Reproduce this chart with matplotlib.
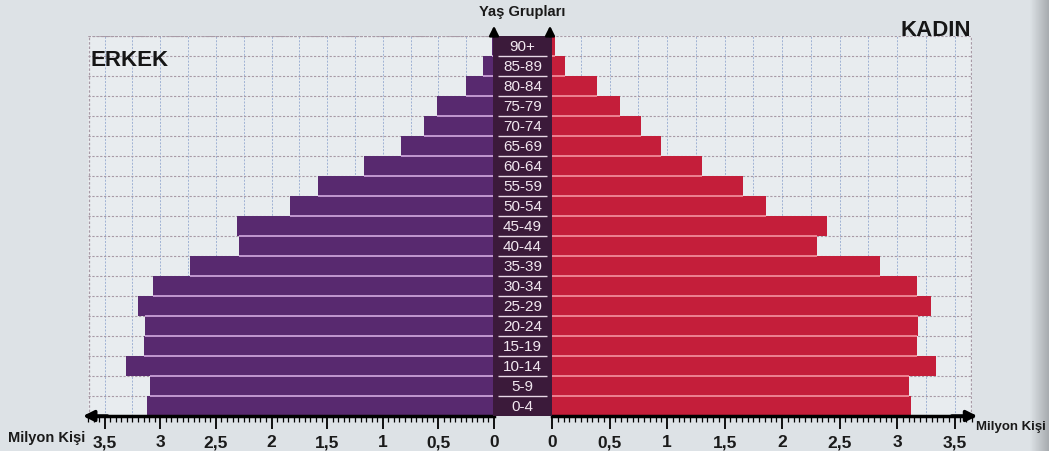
import matplotlib
matplotlib.use("Agg")
import matplotlib.pyplot as plt
import numpy as np
from matplotlib.ticker import MultipleLocator, FixedLocator

# ---------------- data ----------------
age_groups = ['0-4', '5-9', '10-14', '15-19', '20-24', '25-29', '30-34', '35-39',
              '40-44', '45-49', '50-54', '55-59', '60-64', '65-69', '70-74',
              '75-79', '80-84', '85-89', '90+']
male = [3.12, 3.09, 3.31, 3.15, 3.14, 3.20, 3.07, 2.73, 2.29, 2.31,
        1.83, 1.58, 1.17, 0.84, 0.63, 0.51, 0.25, 0.10, 0.02]
female = [3.12, 3.10, 3.34, 3.17, 3.18, 3.29, 3.17, 2.85, 2.30, 2.39,
          1.86, 1.66, 1.30, 0.95, 0.77, 0.59, 0.39, 0.11, 0.03]
tick_values = [0, 0.5, 1, 1.5, 2, 2.5, 3, 3.5]
tick_labels = ['0', '0,5', '1', '1,5', '2', '2,5', '3', '3,5']

FONT = ['Liberation Sans', 'DejaVu Sans']
plt.rcParams['font.family'] = FONT

W, H = 1049, 452
fig = plt.figure(figsize=(W / 100, H / 100), dpi=100)
fig.patch.set_facecolor('#dde2e6')

def fx(px):
    return px / W

def fy(py):
    return 1 - py / H

y_top_px, y_bot_px = 37, 417
bottom = fy(y_bot_px)
height = fy(y_top_px) - bottom

XMAX = 3.65
axL = fig.add_axes([fx(88), bottom, fx(494 - 88), height])
axR = fig.add_axes([fx(552), bottom, fx(972 - 552), height])
axC = fig.add_axes([fx(493), bottom, fx(552 - 493), height])

n = len(age_groups)
ypos = np.arange(n)

purple = '#58296f'
red = '#c41e3a'

for ax, vals, col, sep, xl in [(axL, male, purple, '#c9a0d8', (XMAX, 0)),
                                (axR, female, red, '#f08a98', (0, XMAX))]:
    ax.set_facecolor('#e8ecef')
    ax.set_xlim(*xl)
    ax.set_ylim(-0.5, n - 0.5)
    for gx in np.arange(0.25, XMAX, 0.25):
        ax.axvline(gx, color='#9fb2d4', lw=0.7, ls=(0, (2, 1.5)), zorder=0)
    for gy in np.arange(-0.5, n, 1.0):
        ax.axhline(gy, color='#a89aa6', lw=0.8, ls=(0, (2, 1.5)), zorder=0)
    ax.barh(ypos, vals, height=1.0, color=col, zorder=2, linewidth=0)
    for i in range(n - 1):
        ax.hlines(i + 0.5, 0, min(vals[i], vals[i + 1]), color=sep, lw=1.3, zorder=3)
    for s in ['top', 'left', 'right']:
        ax.spines[s].set_visible(False)
    ax.spines['bottom'].set_color('black')
    ax.spines['bottom'].set_linewidth(2.5)
    ax.set_yticks([])
    ax.xaxis.set_major_locator(FixedLocator(tick_values))
    ax.set_xticklabels(tick_labels, fontsize=12.5, fontweight='bold', color='#1a1a1a')
    ax.xaxis.set_minor_locator(MultipleLocator(0.05))
    ax.tick_params(axis='x', which='major', length=9, width=1.3, direction='out', pad=4, color='black')
    ax.tick_params(axis='x', which='minor', length=4, width=0.9, direction='out', color='black')

axL.axhline(n - 0.5, color='#a89aa6', lw=0.9, ls=(0, (2, 1.5)))
axL.axvline(XMAX - 0.005, color='#a89aa6', lw=0.9, ls=(0, (2, 1.5)))
axR.axvline(XMAX - 0.005, color='#a89aa6', lw=0.9, ls=(0, (2, 1.5)))

for ax in (axL, axR):
    ax.annotate('', xy=(XMAX + 0.07, -0.5), xytext=(XMAX - 0.2, -0.5),
                arrowprops=dict(arrowstyle='-|>', color='black', lw=2.5, mutation_scale=16),
                annotation_clip=False, xycoords='data')

# center label column
axC.set_facecolor('#3b1a3a')
axC.set_xlim(0, 1)
axC.set_ylim(-0.5, n - 0.5)
axC.set_xticks([])
axC.set_yticks([])
for s in axC.spines.values():
    s.set_visible(False)
for i, lab in enumerate(age_groups):
    axC.text(0.5, i, lab, ha='center', va='center', color='#f2e8f0', fontsize=11)
for i in range(n - 1):
    axC.hlines(i + 0.5, 0.08, 0.92, color='#e8d8e6', lw=1.0)

for px in (494, 550):
    fig.add_artist(matplotlib.patches.FancyArrowPatch(
        (fx(px), fy(40)), (fx(px), fy(24)), transform=fig.transFigure,
        arrowstyle='-|>', mutation_scale=14, color='black', lw=1.8))

fig.text(fx(522), fy(12), 'Yaş Grupları', ha='center', va='center',
         fontsize=10.5, fontweight='bold', color='#1a1a1a')
fig.text(fx(91), fy(60), 'ERKEK', ha='left', va='center', fontsize=16,
         fontweight='bold', color='#161616')
fig.text(fx(971), fy(31), 'KADIN', ha='right', va='center', fontsize=16,
         fontweight='bold', color='#161616')
fig.text(fx(8), fy(438), 'Milyon Kişi', ha='left', va='center', fontsize=10.5,
         fontweight='bold', color='#1a1a1a')
fig.text(fx(976), fy(427), 'Milyon Kişi', ha='left', va='center', fontsize=9.5,
         fontweight='bold', color='#1a1a1a')

# right page shadow
axS = fig.add_axes([fx(1030), 0, fx(W - 1030), 1], zorder=-1)
grad = np.linspace(0, 1, 50).reshape(1, -1)
axS.imshow(grad, aspect='auto', cmap=matplotlib.colors.LinearSegmentedColormap.from_list(
    'sh', ['#dde2e6', '#9a9ea2']), extent=[0, 1, 0, 1], alpha=0.8)
axS.axis('off')

fig.savefig('out.png', dpi=100, facecolor=fig.get_facecolor())
